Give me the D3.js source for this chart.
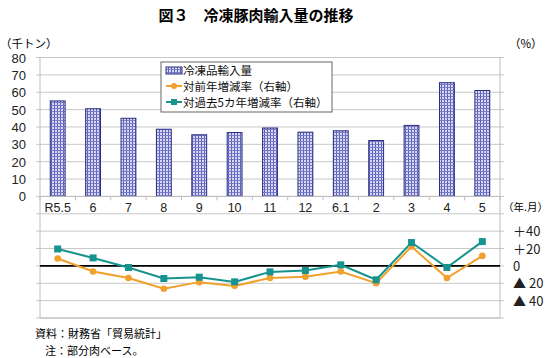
<!DOCTYPE html>
<html><head><meta charset="utf-8">
<script src="https://cdn.jsdelivr.net/npm/d3@7"></script>
<style>
body{margin:0;background:#fff;}
svg{font-family:"Noto Sans CJK JP","Liberation Sans",Arial,sans-serif;}
</style></head>
<body><svg id="c" width="550" height="358"></svg>
<script>
const categories = ["R5.5","6","7","8","9","10","11","12","6.1","2","3","4","5"];
const importVol = [55,50.5,45,38.7,35.5,36.8,39.4,37,37.8,32.2,40.9,65.5,61];
const yoyRate = [8.5,-6.4,-14,-26.4,-18.7,-23,-14,-12.6,-6.4,-19.9,22.3,-14,11.5];
const fiveYrRate = [19.5,9.2,-1.8,-14.5,-13,-18.4,-6.9,-5.3,1.2,-16,26.9,-1.8,28];
const leftTicks = [0,10,20,30,40,50,60,70,80];
const rightTicks = [40,20,0,-20,-40];
const rightTickLabels = ["＋40","＋20","0","▲ 20","▲ 40"];
const gridVals = d3.range(-70,81,10);
const legendLabels = ["冷凍品輸入量","対前年増減率（右軸）","対過去5カ年増減率（右軸）"];

const svg = d3.select("#c");
const L=40,R=500,T=57.5,B=318;
const x = d3.scaleBand().domain(categories).range([L,R]);
const y1 = d3.scaleLinear().domain([-70,80]).range([B,T]);
const y2 = d3.scaleLinear().domain([-60,240]).range([B,T]);

// pattern
const defs = svg.append("defs");
const pat = defs.append("pattern").attr("id","chk").attr("patternUnits","userSpaceOnUse")
  .attr("width",3).attr("height",3);
pat.append("rect").attr("width",3).attr("height",3).attr("fill","#d8daf5");
pat.append("rect").attr("x",0).attr("y",0).attr("width",1).attr("height",3).attr("fill","#5a5eb4");
pat.append("rect").attr("x",0).attr("y",0).attr("width",3).attr("height",1).attr("fill","#767ac8");

// title
svg.append("text").attr("x",256).attr("y",21).attr("text-anchor","middle")
  .attr("font-size",15).attr("font-weight","bold").text("図３　冷凍豚肉輸入量の推移");
svg.append("text").attr("x",0).attr("y",48).attr("font-size",11.5).text("（千トン）");
svg.append("text").attr("x",509).attr("y",48).attr("font-size",11.5).text("（%）");

// grid
svg.append("g").selectAll("line").data(gridVals).join("line")
  .attr("x1",L-4).attr("x2",R+4).attr("y1",d=>y1(d)).attr("y2",d=>y1(d))
  .attr("stroke","#c8c8c8").attr("stroke-width",1);
// axes lines
svg.append("line").attr("x1",L).attr("x2",L).attr("y1",T).attr("y2",B).attr("stroke","#bdbdbd");
svg.append("line").attr("x1",R).attr("x2",R).attr("y1",T).attr("y2",B).attr("stroke","#bdbdbd");
svg.append("line").attr("x1",L).attr("x2",R).attr("y1",B).attr("y2",B).attr("stroke","#bdbdbd");

// left labels
svg.append("g").selectAll("text").data(leftTicks).join("text")
  .attr("x",26).attr("y",d=>y1(d)+5).attr("text-anchor","end")
  .attr("font-family","Liberation Sans, Arial, sans-serif").attr("font-size",13).attr("fill","#222").text(d=>d);

// bars
svg.append("g").selectAll("rect").data(importVol).join("rect")
  .attr("x",(d,i)=>x(categories[i])+x.bandwidth()*0.29)
  .attr("width",x.bandwidth()*0.42)
  .attr("y",d=>y1(d)).attr("height",d=>y1(0)-y1(d))
  .attr("fill","url(#chk)").attr("stroke","#2b2f7e").attr("stroke-width",1);

// category axis
svg.append("line").attr("x1",L).attr("x2",R).attr("y1",y1(0)).attr("y2",y1(0)).attr("stroke","#bdbdbd");
svg.append("g").selectAll("line").data(d3.range(categories.length+1)).join("line")
  .attr("x1",i=>L+i*x.step()).attr("x2",i=>L+i*x.step())
  .attr("y1",y1(0)).attr("y2",y1(0)+4).attr("stroke","#bdbdbd");
svg.append("g").selectAll("text").data(categories).join("text")
  .attr("x",d=>x(d)+x.bandwidth()/2).attr("y",y1(0)+16).attr("text-anchor","middle")
  .attr("font-family","Liberation Sans, Arial, sans-serif").attr("font-size",12.5).attr("fill","#222").text(d=>d);
svg.append("text").attr("x",503).attr("y",211).attr("font-size",10.5).text("（年.月）");

// zero line for right axis
svg.append("line").attr("x1",L).attr("x2",R).attr("y1",y2(0)).attr("y2",y2(0)).attr("stroke","#000").attr("stroke-width",1.6);

// right labels
svg.append("g").selectAll("text").data(rightTicks).join("text")
  .attr("x",513).attr("y",d=>y2(d)+5).attr("font-size",13).attr("fill","#222")
  .text((d,i)=>rightTickLabels[i]);

// lines
const cx = i=>x(categories[i])+x.bandwidth()/2;
const line = d3.line().x((d,i)=>cx(i)).y(d=>y2(d));
svg.append("path").datum(yoyRate).attr("d",line).attr("fill","none").attr("stroke","#f0a02c").attr("stroke-width",2);
svg.append("path").datum(fiveYrRate).attr("d",line).attr("fill","none").attr("stroke","#16938f").attr("stroke-width",2);
svg.append("g").selectAll("circle").data(yoyRate).join("circle")
  .attr("cx",(d,i)=>cx(i)).attr("cy",d=>y2(d)).attr("r",3.3).attr("fill","#f0a02c");
svg.append("g").selectAll("rect").data(fiveYrRate).join("rect")
  .attr("x",(d,i)=>cx(i)-3.5).attr("y",d=>y2(d)-3.5).attr("width",7).attr("height",7).attr("fill","#16938f");

// legend
const lg = svg.append("g");
lg.append("rect").attr("x",161).attr("y",62).attr("width",171).attr("height",50)
  .attr("fill","#fff").attr("stroke","#666").attr("stroke-width",1);
lg.append("rect").attr("x",166).attr("y",67).attr("width",16).attr("height",7).attr("fill","url(#chk)").attr("stroke","#2b2f7e");
[["#f0a02c","c"],["#16938f","s"]].forEach(([c,t],k)=>{
  const yy = 86+k*16;
  lg.append("line").attr("x1",166).attr("x2",182).attr("y1",yy).attr("y2",yy).attr("stroke",c).attr("stroke-width",2);
  if(t==="c") lg.append("circle").attr("cx",174).attr("cy",yy).attr("r",3).attr("fill",c);
  else lg.append("rect").attr("x",171).attr("y",yy-3).attr("width",6).attr("height",6).attr("fill",c);
});
lg.selectAll("text").data(legendLabels).join("text")
  .attr("x",183).attr("y",(d,i)=>75+i*16).attr("font-size",11.5).attr("fill","#111").text(d=>d);

// notes
svg.append("text").attr("x",35).attr("y",338).attr("font-size",11).text("資料：財務省「貿易統計」");
svg.append("text").attr("x",45).attr("y",355).attr("font-size",11).text("注：部分肉ベース。");
</script></body></html>
